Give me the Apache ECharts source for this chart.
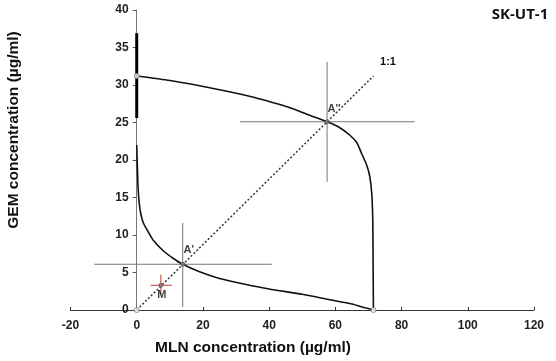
<!DOCTYPE html>
<html>
<head>
<meta charset="utf-8">
<script src="https://cdn.jsdelivr.net/npm/echarts@6/dist/echarts.min.js"></script>
<style>
  html, body { margin: 0; padding: 0; background: #fff; }
  #chart { width: 556px; height: 361px; }
</style>
</head>
<body>
<div id="chart"></div>
<script>
// upper isobole (GEM IC50 -> MLN IC50)
const upperX = [0, 10, 19, 28, 35, 40, 44, 48, 52, 57.5, 61, 64.4, 66.5, 67.9, 69.4, 70.4, 71.0, 71.3, 71.4, 71.5]
const upperY = [31.2, 30.6, 29.9, 29.1, 28.4, 27.8, 27.3, 26.7, 26.0, 25.1, 24.4, 23.3, 22.3, 20.9, 19.4, 17.8, 15.5, 12.0, 6.0, 0]
// lower isobole
const lowerX = [0, 0.2, 0.4, 0.7, 1.2, 2, 3.5, 5, 8, 11, 13.9, 19, 25, 32, 40, 50, 58, 65, 69, 71.5]
const lowerY = [22, 19, 16.5, 14.5, 12.9, 11.6, 10.4, 9.3, 7.9, 6.9, 6.1, 5.1, 4.2, 3.5, 2.8, 2.1, 1.4, 0.8, 0.3, 0]

const xTicks = [-20, 0, 20, 40, 60, 80, 100, 120]
const yTicks = [0, 5, 10, 15, 20, 25, 30, 35, 40]

const gemIC50 = [0, 31.2]
const mlnIC50 = [71.5, 0]
const gemErr = [25.6, 36.9]
const ratioLine = [[0, 0], [71.5, 31.2]]

const pointA1 = [13.9, 6.1]
const a1XRange = [-12.8, 40.8]
const a1YRange = [0.4, 11.6]

const pointA2 = [57.5, 25.1]
const a2XRange = [31.2, 84.0]
const a2YRange = [17.1, 33.1]

const pointM = [7.3, 3.3]
const mXRange = [4.2, 10.6]
const mYRange = [2.0, 4.7]

function zip(xs, ys) {
  return xs.map((x, i) => [x, ys[i]])
}

function seg(data, color, width, type) {
  return {
    type: 'line',
    data: data,
    symbol: 'none',
    silent: true,
    lineStyle: { color: color, width: width, type: type || 'solid' },
    z: 2
  }
}

function cross(p, xr, yr, color) {
  return [
    seg([[xr[0], p[1]], [xr[1], p[1]]], color, 1),
    seg([[p[0], yr[0]], [p[0], yr[1]]], color, 1)
  ]
}

const boldText = { fontFamily: 'Liberation Sans, Arial, sans-serif', fontWeight: 'bold', color: '#111' }

let myChart = echarts.init(document.getElementById('chart'))
myChart.setOption({
  animation: false,
  grid: { left: 70.5, right: 22, top: 10, bottom: 51 },
  xAxis: {
    type: 'value',
    min: xTicks[0],
    max: xTicks[xTicks.length - 1],
    interval: 20,
    axisLine: { onZero: false, lineStyle: { color: '#333', width: 1 } },
    axisTick: { inside: true, length: 3, lineStyle: { color: '#333' } },
    splitLine: { show: false },
    axisLabel: { margin: 10, fontSize: 12, ...boldText, color: '#222' }
  },
  yAxis: {
    type: 'value',
    min: yTicks[0],
    max: yTicks[yTicks.length - 1],
    interval: 5,
    // sit the y axis on x = 0 (20 units of 140 across the plot)
    offset: -66.2,
    axisLine: { show: true, onZero: false, lineStyle: { color: '#777', width: 1 } },
    axisTick: { show: true, length: 4, lineStyle: { color: '#555' } },
    splitLine: { show: false },
    axisLabel: { margin: 8, fontSize: 12, ...boldText, color: '#222' }
  },
  graphic: [
    { type: 'text', x: 520, y: 15, style: { text: 'SK-UT-1', font: 'bold 15px "Open Sans", sans-serif', fill: '#111', align: 'center', verticalAlign: 'middle' } },
    { type: 'text', x: 253, y: 348, style: { text: 'MLN concentration (µg/ml)', font: 'bold 15.5px "Liberation Sans", Arial, sans-serif', fill: '#111', align: 'center', verticalAlign: 'middle' } },
    { type: 'text', x: 14, y: 130, rotation: Math.PI / 2, style: { text: 'GEM concentration (µg/ml)', font: 'bold 15.5px "Liberation Sans", Arial, sans-serif', fill: '#111', align: 'center', verticalAlign: 'middle' } },
    { type: 'text', x: 388, y: 62, style: { text: '1:1', font: 'bold 11px "Liberation Sans", Arial, sans-serif', fill: '#111', align: 'center', verticalAlign: 'middle' } }
  ],
  series: [
    seg(ratioLine, '#333', 1.5, [2, 2]),
    ...cross(pointA1, a1XRange, a1YRange, '#777'),
    ...cross(pointA2, a2XRange, a2YRange, '#777'),
    ...cross(pointM, mXRange, mYRange, '#c0392b'),
    seg([[gemIC50[0], gemErr[0]], [gemIC50[0], gemErr[1]]], '#000', 3),
    {
      type: 'line',
      data: zip(upperX, upperY),
      smooth: 0.2,
      symbol: 'none',
      lineStyle: { color: '#111', width: 1.6 },
      z: 3
    },
    {
      type: 'line',
      data: zip(lowerX, lowerY),
      smooth: 0.2,
      symbol: 'none',
      lineStyle: { color: '#111', width: 1.6 },
      z: 3
    },
    {
      type: 'scatter',
      data: [gemIC50, [0, 0], mlnIC50],
      symbol: 'circle',
      symbolSize: 5,
      itemStyle: { color: '#fff', borderColor: '#777', borderWidth: 1 },
      z: 5
    },
    {
      type: 'scatter',
      data: [
        { value: pointA1, name: "A'", label: { offset: [6, -14] } },
        { value: pointA2, name: "A''", label: { offset: [7, -13] } },
        { value: pointM, name: 'M', label: { offset: [1, 10] } }
      ],
      symbol: 'circle',
      symbolSize: 4,
      itemStyle: { color: '#888', borderColor: '#555', borderWidth: 1 },
      label: {
        show: true,
        position: 'inside',
        formatter: p => p.name,
        fontSize: 11,
        ...boldText
      },
      z: 5
    }
  ]
})
</script>
</body>
</html>
